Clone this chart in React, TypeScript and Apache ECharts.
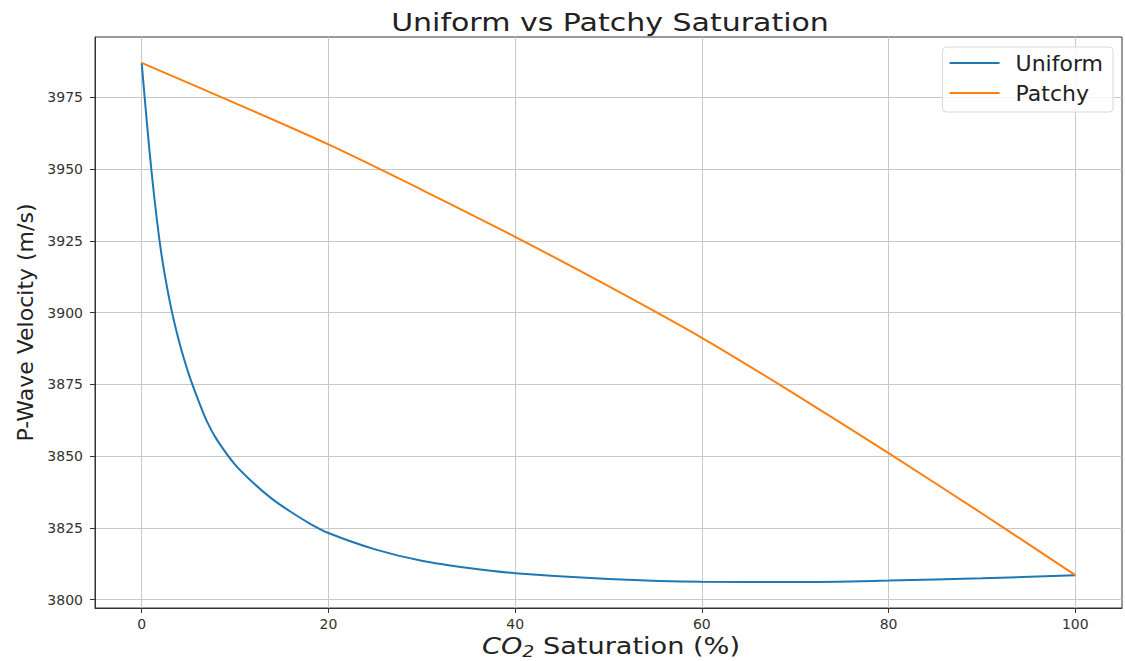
import React, { useEffect, useRef } from "react";
import * as echarts from "echarts";

// CO2 saturation (%) sample points
const saturation = [0, 1, 2, 3, 4, 5, 6, 7, 8, 10, 12, 14, 16, 18, 20, 25, 30, 35, 40, 50, 60, 70, 80, 90, 100];
// P-wave velocity (m/s), uniform (Gassmann–Wood) saturation
const uniformVp = [3987, 3951, 3923, 3904, 3890, 3879, 3870, 3862, 3856, 3847, 3840.5, 3835, 3830.5, 3826.5, 3823.2, 3817.5, 3813.5, 3811, 3809.2, 3807.2, 3806.2, 3806.1, 3806.6, 3807.4, 3808.5];
// P-wave velocity (m/s), patchy saturation
const patchyX = [0, 10, 20, 30, 40, 50, 60, 70, 80, 90, 100];
const patchyVp = [3987, 3973, 3958.6, 3942.8, 3926.4, 3909.2, 3891.2, 3871.5, 3851, 3830, 3808.5];

const xTicks = [0, 20, 40, 60, 80, 100];
const yTicks = [3800, 3825, 3850, 3875, 3900, 3925, 3950, 3975];

const FONT = "DejaVu Sans";
const INK = "#222";

export default function App() {
  const ref = useRef<HTMLDivElement>(null);

  useEffect(() => {
    if (!ref.current) return;
    const chart = echarts.init(ref.current, null, { renderer: "svg" });

    const allY = uniformVp.concat(patchyVp);
    const yLo = Math.min(...allY);
    const yHi = Math.max(...allY);
    const pad = (yHi - yLo) * 0.05;

    chart.setOption({
      animation: false,
      backgroundColor: "#ffffff",
      graphic: [
        {
          type: "text",
          x: 610,
          y: 22,
          scaleX: 1.2,
          style: {
            text: "Uniform vs Patchy Saturation",
            fontFamily: FONT,
            fontSize: 25,
            fill: INK,
            align: "center",
            verticalAlign: "middle",
          },
        },
        {
          type: "text",
          x: 611,
          y: 646,
          scaleX: 1.18,
          style: {
            text: "{i|CO}{s|2}{n| Saturation (%)}",
            fontFamily: FONT,
            fontSize: 23,
            fill: INK,
            align: "center",
            verticalAlign: "middle",
            rich: {
              i: { fontFamily: FONT, fontSize: 23, fontStyle: "italic", fill: INK },
              s: { fontFamily: FONT, fontSize: 16, fontStyle: "italic", fill: INK, padding: [12, 0, 0, 0] },
              n: { fontFamily: FONT, fontSize: 23, fill: INK },
            },
          },
        },
      ],
      legend: {
        orient: "vertical",
        right: 12,
        top: 47,
        itemWidth: 50,
        itemHeight: 2,
        itemGap: 8,
        icon: "rect",
        padding: [5, 10, 8, 7],
        borderColor: "#d8d8d8",
        borderWidth: 1,
        borderRadius: 4,
        backgroundColor: "rgba(255,255,255,0.85)",
        textStyle: { fontFamily: FONT, fontSize: 22, lineHeight: 20, color: INK, padding: [0, 0, 0, 11] },
        data: ["Uniform", "Patchy"],
      },
      grid: {
        left: 95,
        right: 3,
        top: 37,
        bottom: 53,
        show: true,
        borderColor: "#333",
        borderWidth: 1,
        outerBoundsMode: "none",
        containLabel: false,
      },
      xAxis: {
        type: "value",
        min: -5,
        max: 105,
        axisLine: { onZero: false, lineStyle: { color: "#333" } },
        axisTick: { show: true, length: 5, customValues: xTicks, lineStyle: { color: "#333" } },
        axisLabel: { customValues: xTicks, margin: 9, fontFamily: FONT, fontSize: 14, color: "#333" },
        splitLine: { show: true, lineStyle: { color: "#c8c8c8", width: 1 } },
      },
      yAxis: {
        type: "value",
        min: yLo - pad,
        max: yHi + pad,
        name: "P-Wave Velocity (m/s)",
        nameLocation: "middle",
        nameGap: 59,
        nameTextStyle: { fontFamily: FONT, fontSize: 22, color: INK },
        axisLine: { show: true, onZero: false, lineStyle: { color: "#333" } },
        axisTick: { show: true, length: 5, customValues: yTicks, lineStyle: { color: "#333" } },
        axisLabel: {
          customValues: yTicks,
          margin: 12,
          fontFamily: FONT,
          fontSize: 14,
          color: "#333",
          formatter: (v: number) => String(v),
        },
        splitLine: { show: true, lineStyle: { color: "#c8c8c8", width: 1 } },
      },
      series: [
        {
          name: "Uniform",
          type: "line",
          data: saturation.map((x, i) => [x, uniformVp[i]]),
          showSymbol: false,
          smooth: 0.3,
          lineStyle: { color: "#1f77b4", width: 2 },
          itemStyle: { color: "#1f77b4" },
        },
        {
          name: "Patchy",
          type: "line",
          data: patchyX.map((x, i) => [x, patchyVp[i]]),
          showSymbol: false,
          smooth: 0.3,
          lineStyle: { color: "#ff7f0e", width: 2 },
          itemStyle: { color: "#ff7f0e" },
        },
      ],
    });

    return () => chart.dispose();
  }, []);

  return (
    <div
      ref={ref}
      style={{ position: "absolute", left: 0, top: 0, width: 1125, height: 661, background: "#fff" }}
    />
  );
}
